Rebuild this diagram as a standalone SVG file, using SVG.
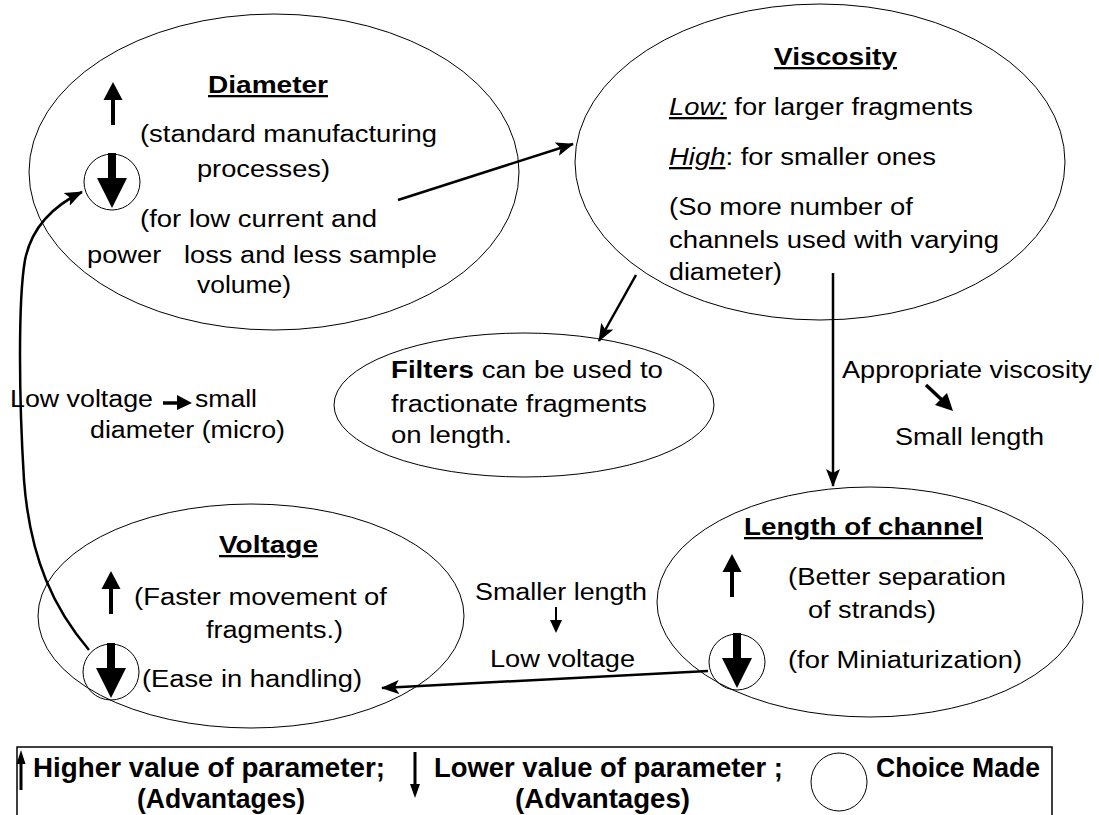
<svg xmlns="http://www.w3.org/2000/svg" width="1099" height="815" viewBox="0 0 1099 815">
<style>
.n{fill:none;stroke:#000;stroke-width:1}
.t{font-family:"Liberation Sans",Arial,sans-serif;font-size:23px;fill:#000}
.h{font-family:"Liberation Sans",Arial,sans-serif;font-size:23px;font-weight:bold;text-decoration:underline;fill:#000}
.c{fill:none;stroke:#000;stroke-width:2.5}
.lg{font-family:"Liberation Sans",Arial,sans-serif;font-size:28px;font-weight:bold;fill:#000}
</style>
<defs>
<marker id="ahb" markerWidth="18" markerHeight="16" refX="17" refY="8" orient="auto" markerUnits="userSpaceOnUse" viewBox="0 0 18 16">
<path d="M0,1 L18,8 L0,15 L4,8 z" fill="#000"/>
</marker>
<g id="up">
<rect x="-2" y="-26" width="4" height="26" fill="#000"/>
<path d="M-9.5,-25 L0,-43 L9.5,-25 z" fill="#000"/>
</g>
<g id="down">
<rect x="-4" y="-29" width="8" height="26" fill="#000"/>
<path d="M-15,-4 L15,-4 L0,26 z" fill="#000"/>
</g>
</defs>
<rect width="1099" height="815" fill="#fff"/>

<g id="connectors">
<path class="c" d="M398,200 L573,144" marker-end="url(#ahb)"/>
<path class="c" d="M636,275 L599,341" marker-end="url(#ahb)"/>
<path class="c" d="M833,273 L833,486" marker-end="url(#ahb)"/>
<path class="c" d="M708,671 L382,688" marker-end="url(#ahb)"/>
<path class="c" d="M89,650 C55,610 30,560 24,480 C19,400 18,300 25,260 C32,225 55,205 82,192" marker-end="url(#ahb)"/>
</g>

<g id="diameter">
<ellipse class="n" cx="274" cy="172" rx="245" ry="158"/>
<text class="h" x="208" y="93" textLength="120" lengthAdjust="spacingAndGlyphs">Diameter</text>
<use href="#up" x="113" y="125"/>
<text class="t" x="140" y="142" textLength="297" lengthAdjust="spacingAndGlyphs">(standard manufacturing</text>
<text class="t" x="197" y="177" textLength="133" lengthAdjust="spacingAndGlyphs">processes)</text>
<circle class="n" cx="112" cy="182" r="28"/>
<use href="#down" x="112" y="182"/>
<text class="t" x="140" y="227" textLength="237" lengthAdjust="spacingAndGlyphs">(for low current and</text>
<text class="t" x="87" y="263" textLength="350" lengthAdjust="spacingAndGlyphs" xml:space="preserve">power   loss and less sample</text>
<text class="t" x="197" y="293" textLength="94" lengthAdjust="spacingAndGlyphs">volume)</text>
</g>

<g id="viscosity">
<ellipse class="n" cx="820" cy="162" rx="245" ry="158"/>
<text class="h" x="774" y="65" textLength="123" lengthAdjust="spacingAndGlyphs">Viscosity</text>
<text class="t" x="669" y="115" textLength="304" lengthAdjust="spacingAndGlyphs"><tspan font-style="italic" text-decoration="underline">Low:</tspan> for larger fragments</text>
<text class="t" x="669" y="165" textLength="267" lengthAdjust="spacingAndGlyphs"><tspan font-style="italic" text-decoration="underline">High</tspan>: for smaller ones</text>
<text class="t" x="669" y="215" textLength="244" lengthAdjust="spacingAndGlyphs">(So more number of</text>
<text class="t" x="669" y="248" textLength="330" lengthAdjust="spacingAndGlyphs">channels used with varying</text>
<text class="t" x="669" y="280" textLength="113" lengthAdjust="spacingAndGlyphs">diameter)</text>
</g>

<g id="filters">
<ellipse class="n" cx="524" cy="405" rx="190" ry="72"/>
<text class="t" x="391" y="378" textLength="272" lengthAdjust="spacingAndGlyphs"><tspan font-weight="bold">Filters</tspan> can be used to</text>
<text class="t" x="391" y="412" textLength="256" lengthAdjust="spacingAndGlyphs">fractionate fragments</text>
<text class="t" x="391" y="443" textLength="121" lengthAdjust="spacingAndGlyphs">on length.</text>
</g>

<g id="note-voltage-diameter">
<text class="t" x="10" y="407" textLength="143" lengthAdjust="spacingAndGlyphs">Low voltage</text>
<line x1="163" y1="403" x2="180" y2="403" stroke="#000" stroke-width="3.5"/>
<path d="M177,395 L192,403 L177,410 z" fill="#000"/>
<text class="t" x="195" y="407" textLength="62" lengthAdjust="spacingAndGlyphs">small</text>
<text class="t" x="90" y="438" textLength="195" lengthAdjust="spacingAndGlyphs">diameter (micro)</text>
</g>

<g id="note-viscosity-length">
<text class="t" x="842" y="378" textLength="250" lengthAdjust="spacingAndGlyphs">Appropriate viscosity</text>
<line x1="926" y1="385" x2="942" y2="400" stroke="#000" stroke-width="3.5"/>
<path d="M935,405 L953,411 L947,393 z" fill="#000"/>
<text class="t" x="895" y="445" textLength="149" lengthAdjust="spacingAndGlyphs">Small length</text>
</g>

<g id="note-length-voltage">
<text class="t" x="475" y="600" textLength="172" lengthAdjust="spacingAndGlyphs">Smaller length</text>
<line x1="556" y1="607" x2="556" y2="622" stroke="#000" stroke-width="2"/>
<path d="M550,620 L556,633 L562,620 z" fill="#000"/>
<text class="t" x="490" y="667" textLength="145" lengthAdjust="spacingAndGlyphs">Low voltage</text>
</g>

<g id="voltage">
<ellipse class="n" cx="251" cy="616" rx="213" ry="112"/>
<text class="h" x="219" y="553" textLength="99" lengthAdjust="spacingAndGlyphs">Voltage</text>
<use href="#up" x="111" y="614"/>
<text class="t" x="134" y="605" textLength="253" lengthAdjust="spacingAndGlyphs">(Faster movement of</text>
<text class="t" x="206" y="638" textLength="137" lengthAdjust="spacingAndGlyphs">fragments.)</text>
<circle class="n" cx="111" cy="672" r="28"/>
<use href="#down" x="111" y="672"/>
<text class="t" x="142" y="687" textLength="220" lengthAdjust="spacingAndGlyphs">(Ease in handling)</text>
</g>

<g id="length">
<ellipse class="n" cx="870" cy="602" rx="213" ry="115"/>
<text class="h" x="744" y="535" textLength="239" lengthAdjust="spacingAndGlyphs">Length of channel</text>
<use href="#up" x="732" y="597"/>
<text class="t" x="788" y="585" textLength="218" lengthAdjust="spacingAndGlyphs">(Better separation</text>
<text class="t" x="808" y="618" textLength="128" lengthAdjust="spacingAndGlyphs">of strands)</text>
<circle class="n" cx="737" cy="662" r="28"/>
<use href="#down" x="737" y="662"/>
<text class="t" x="788" y="668" textLength="234" lengthAdjust="spacingAndGlyphs">(for Miniaturization)</text>
</g>

<g id="legend">
<path d="M17,830 L17,747 L1052,747 L1052,830" fill="none" stroke="#000" stroke-width="1.5"/>
<rect x="19.5" y="762" width="3" height="28" fill="#000"/>
<path d="M16.5,764 L21,750 L25.5,764 z" fill="#000"/>
<text class="lg" x="33" y="777" textLength="352" lengthAdjust="spacingAndGlyphs">Higher value of parameter;</text>
<text class="lg" x="137" y="808" textLength="168" lengthAdjust="spacingAndGlyphs">(Advantages)</text>
<rect x="413.5" y="752" width="3" height="34" fill="#000"/>
<path d="M410,784 L415,798 L420,784 z" fill="#000"/>
<text class="lg" x="434" y="777" textLength="349" lengthAdjust="spacingAndGlyphs">Lower value of parameter ;</text>
<text class="lg" x="515" y="808" textLength="175" lengthAdjust="spacingAndGlyphs">(Advantages)</text>
<ellipse class="n" cx="839" cy="782" rx="28" ry="29"/>
<text class="lg" x="876" y="777" textLength="164" lengthAdjust="spacingAndGlyphs">Choice Made</text>
</g>
</svg>
